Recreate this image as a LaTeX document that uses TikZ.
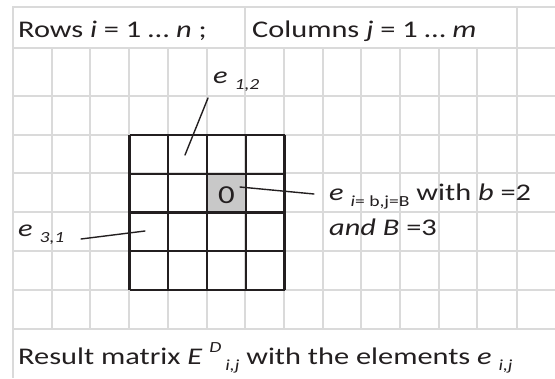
\documentclass[tikz,border=0pt]{standalone}
\usepackage{fontspec}
\setmainfont{Carlito}[FakeStretch=1.27]
\usetikzlibrary{calc,positioning}

\definecolor{gridgray}{HTML}{DADADA}
\definecolor{ink}{HTML}{231F20}
\definecolor{cellgray}{HTML}{C8C8C8}

% small raised / lowered indices
\newcommand{\lowidx}[1]{\raisebox{-0.6ex}{\fontsize{15.5}{15}\selectfont #1}}
\newcommand{\highidx}[1]{\raisebox{1ex}{\fontsize{15.5}{15}\selectfont #1}}

\begin{document}
\begin{tikzpicture}[x=1bp,y=-1bp,line join=round,line cap=butt,
    gridline/.style={gridgray,line width=2bp},
    matline/.style={ink,line width=2.3bp},
    pointer/.style={ink,line width=1.4bp,line cap=round},
    txt/.style={inner sep=0pt,anchor=base west,text=ink,font=\fontsize{24}{28}\selectfont}]
  \useasboundingbox (0,0) rectangle (555,378);

  % background grid
  \foreach \y in {7,48,96,135,173,212,251,290,329}
    \draw[gridline] (13,\y) -- (555,\y);
  \draw[gridline] (13,6) -- (13,378);
  \foreach \k in {1,...,12}
    \draw[gridline] ({13+38.7*\k},48) -- ({13+38.7*\k},329);
  \draw[gridline] (245,7) -- (245,48);
  \draw[gridline] (516.5,7) -- (516.5,329);

  % matrix
  \fill[cellgray] (206.75,173.75) rectangle (245.5,212.5);
  \foreach \i in {0,...,4} {
    \draw[matline] ({129.5+38.75*\i},135) -- ({129.5+38.75*\i},290);
    \draw[matline] (129.5,{135+38.75*\i}) -- (284.5,{135+38.75*\i});
  }
  \node[txt,anchor=center,font=\fontsize{26}{28}\selectfont] (zero) at (226.5,195) {0};

  % header
  \node[txt] (rows) at (18,37) {Rows \textit{i} = 1 … \textit{n} ;};
  \node[txt] (cols) at (252,37) {Columns \textit{j} = 1 … \textit{m}};

  % labels
  \node[txt] (e12) at (213,83) {\textit{e} \lowidx{\textit{1,2}}};
  \node[txt] (e31) at (18,236) {\textit{e} \lowidx{\textit{3,1}}};
  \node[txt] (ebB) at (329,200) {\textit{e} \lowidx{\textit{i}= b,j=B} with \textit{b} =2};
  \node[txt] (and) at (329,235) {\textit{and B} =3};

  % pointers
  \coordinate (t12) at (208,98);
  \coordinate (p12) at (185,155);
  \coordinate (t31) at (81,239);
  \coordinate (p31) at (145,231);
  \coordinate (t0) at (240,187);
  \coordinate (p0) at (314,194);
  \draw[pointer] (t12) -- (p12);
  \draw[pointer] (t31) -- (p31);
  \draw[pointer] (t0) -- (p0);

  % footer
  \node[txt] (res) at (18,364) {Result matrix \textit{E} \highidx{\textit{D}}\,\lowidx{\textit{i,j}} with the elements \textit{e} \lowidx{\textit{i,j}}};
\end{tikzpicture}
\end{document}
